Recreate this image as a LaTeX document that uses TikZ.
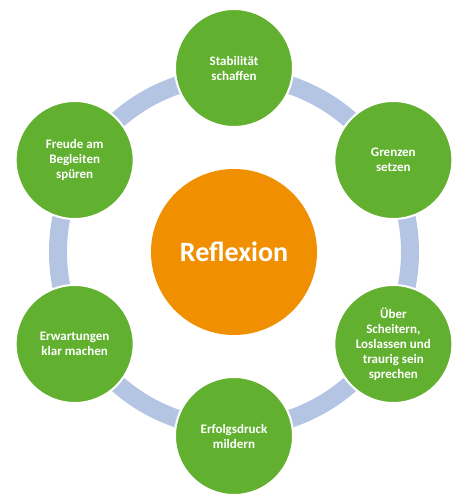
\documentclass[tikz,border=0pt]{standalone}
\usepackage{fontspec}
\setmainfont{Carlito}
\usetikzlibrary{positioning}
\definecolor{ringblue}{HTML}{B4C5E4}
\definecolor{leafgreen}{HTML}{62B030}
\definecolor{huborange}{HTML}{F09000}

\begin{document}
\begin{tikzpicture}[x=1pt, y=1pt, every text node part/.style={align=center},
    hub/.style={circle, fill=huborange, minimum size=166pt, inner sep=0pt, text=white, font=\fontsize{28}{32}\selectfont\bfseries},
    leaf/.style={circle, fill=leafgreen, draw=white, line width=2pt, minimum size=118pt, inner sep=0pt, text=white, font=\fontsize{13}{15}\selectfont\bfseries},
    ring/.style={draw=ringblue, line width=18pt}]
    \useasboundingbox (-234,252) rectangle (234,-250);

    \node [hub] (refl) at (0,0) {Reflexion};
    \draw [ring] (refl.center) circle (176);

    \node [leaf] (stab) at (90:184) {Stabilität\\schaffen};
    \node [leaf] (grenz) at (30:184) {Grenzen\\setzen};
    \node [leaf] (scheit) at (-30:184) {Über\\Scheitern,\\Loslassen und\\traurig sein\\sprechen};
    \node [leaf] (druck) at (-90:184) {Erfolgsdruck\\mildern};
    \node [leaf] (erwart) at (-150:184) {Erwartungen\\klar machen};
    \node [leaf] (freude) at (150:184) {Freude am\\Begleiten\\spüren};
\end{tikzpicture}
\end{document}
